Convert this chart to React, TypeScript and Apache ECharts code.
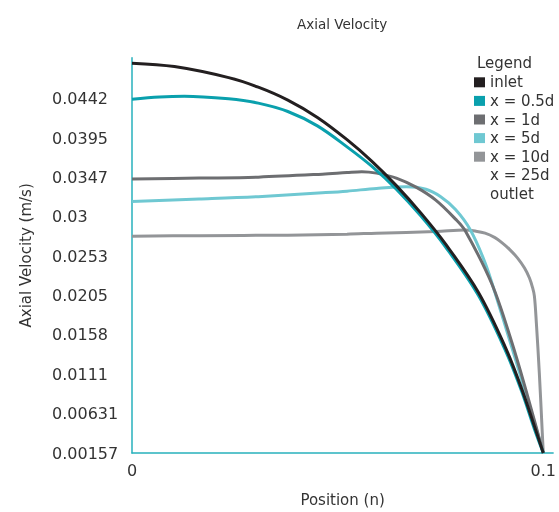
import React, { useEffect, useRef } from "react";
import * as echarts from "echarts";

const yTickValues = [0.00157, 0.00631, 0.01105, 0.01579, 0.02053, 0.02527, 0.03001, 0.03475, 0.03949, 0.04423];
const yTickLabels = ["0.00157", "0.00631", "0.0111", "0.0158", "0.0205", "0.0253", "0.03", "0.0347", "0.0395", "0.0442"];
const xTickValues = [0, 0.1];
const xTickLabels = ["0", "0.1"];

const inletX = [0, 0.01031, 0.0235, 0.0307, 0.03789, 0.04508, 0.05228, 0.05827, 0.06427, 0.07026, 0.07626, 0.08417, 0.09065, 0.09472, 0.09784, 0.1];
const inletV = [0.04854, 0.04813, 0.0468, 0.04565, 0.04409, 0.042, 0.03932, 0.03674, 0.03379, 0.03047, 0.02674, 0.02097, 0.01446, 0.00935, 0.00481, 0.00157];

const x05X = [0, 0.00671, 0.01271, 0.0235, 0.0307, 0.03789, 0.04508, 0.05228, 0.05827, 0.06427, 0.07026, 0.07626, 0.08417, 0.09065, 0.09472, 0.09784, 0.1];
const x05V = [0.0442, 0.04447, 0.04456, 0.04424, 0.04373, 0.04272, 0.04099, 0.03846, 0.03613, 0.03336, 0.03011, 0.02638, 0.0206, 0.01409, 0.00904, 0.00446, 0.00157];

const x1X = [0, 0.01631, 0.0307, 0.04628, 0.05228, 0.05588, 0.05947, 0.06427, 0.06906, 0.07386, 0.07866, 0.08106, 0.08753, 0.09233, 0.09616, 0.09952, 0.1];
const x1V = [0.03457, 0.03469, 0.03481, 0.03517, 0.03537, 0.03547, 0.03529, 0.03469, 0.0336, 0.03204, 0.02975, 0.02831, 0.0219, 0.01494, 0.00848, 0.00245, 0.00157];

const x5X = [0, 0.01631, 0.0307, 0.04628, 0.05228, 0.05947, 0.06667, 0.07146, 0.07506, 0.07866, 0.08225, 0.08585, 0.08825, 0.09233, 0.09616, 0.09952, 0.1];
const x5V = [0.03186, 0.03216, 0.03246, 0.03292, 0.03312, 0.03345, 0.03364, 0.03335, 0.03245, 0.03091, 0.02847, 0.0245, 0.02089, 0.01434, 0.00807, 0.00241, 0.00157];

const x10X = [0, 0.01631, 0.03789, 0.05228, 0.05947, 0.07386, 0.08106, 0.08345, 0.08585, 0.08825, 0.08993, 0.09185, 0.09376, 0.09544, 0.09664, 0.09736, 0.09784, 0.09832, 0.09904, 0.09976, 0.1];
const x10V = [0.0277, 0.02776, 0.02782, 0.02794, 0.02806, 0.02825, 0.02843, 0.02831, 0.02806, 0.02752, 0.02692, 0.02608, 0.02505, 0.02385, 0.02265, 0.02156, 0.02048, 0.01723, 0.0112, 0.00398, 0.00157];

const seriesNames = ["inlet", "x = 0.5d", "x = 1d", "x = 5d", "x = 10d", "x = 25d", "outlet"];
const seriesColors = ["#231f20", "#0aa0ad", "#6d6e71", "#6fc8d2", "#939598", "rgba(0,0,0,0)", "rgba(0,0,0,0)"];

const zip = (xs: number[], ys: number[]) => xs.map((x, i) => [x, ys[i]]);

const FONT = "DejaVu Sans";
const TXT = "#333333";
const AXIS = "#27b1bc";

export default function App() {
  const ref = useRef<HTMLDivElement>(null);
  useEffect(() => {
    if (!ref.current) return;
    const chart = echarts.init(ref.current, undefined, { renderer: "svg" });
    const dataSets = [
      zip(inletX, inletV),
      zip(x05X, x05V),
      zip(x1X, x1V),
      zip(x5X, x5V),
      zip(x10X, x10V),
      [],
      [],
    ];
    const labelFor = (v: number, vals: number[], labs: string[]) => {
      let best = 0;
      for (let i = 1; i < vals.length; i++) {
        if (Math.abs(vals[i] - v) < Math.abs(vals[best] - v)) best = i;
      }
      return labs[best];
    };
    chart.setOption({
      animation: false,
      title: [
        {
          text: "Axial Velocity",
          left: 292,
          top: 12,
          textStyle: { fontFamily: FONT, fontSize: 13.5, fontWeight: "normal", color: TXT },
        },
        {
          text: "Legend",
          left: 472,
          top: 50,
          textStyle: { fontFamily: FONT, fontSize: 15, fontWeight: "normal", color: TXT },
        },
      ],
      legend: {
        orient: "vertical",
        left: 474,
        top: 73,
        icon: "rect",
        itemWidth: 11,
        itemHeight: 10,
        itemGap: 0,
        padding: 0,
        data: seriesNames,
        textStyle: { fontFamily: FONT, fontSize: 15, color: TXT, lineHeight: 18.6 },
      },
      grid: { left: 132, right: 0, top: 57.7, bottom: 59, containLabel: false },
      xAxis: {
        type: "value",
        min: 0,
        max: 0.1024,
        splitLine: { show: false },
        axisTick: { show: false },
        axisLine: { show: true, lineStyle: { color: AXIS, width: 1.5 } },
        axisLabel: {
          customValues: xTickValues,
          formatter: (v: number) => labelFor(v, xTickValues, xTickLabels),
          fontFamily: FONT,
          fontSize: 16,
          color: TXT,
          margin: 9,
          showMaxLabel: true,
        },
        name: "Position (n)",
        nameLocation: "middle",
        nameGap: 39,
        nameTextStyle: { fontFamily: FONT, fontSize: 15, color: TXT },
      },
      yAxis: {
        type: "value",
        min: 0.00157,
        max: 0.0492,
        splitLine: { show: false },
        axisTick: { show: false },
        axisLine: { show: true, lineStyle: { color: AXIS, width: 1.5 } },
        axisLabel: {
          customValues: yTickValues,
          formatter: (v: number) => labelFor(v, yTickValues, yTickLabels),
          fontFamily: FONT,
          fontSize: 16,
          color: TXT,
          align: "left",
          margin: 80,
        },
        name: "Axial Velocity (m/s)",
        nameLocation: "middle",
        nameGap: 99,
        nameTextStyle: { fontFamily: FONT, fontSize: 15, color: TXT },
      },
      series: seriesNames.map((name, i) => ({
        name,
        type: "line",
        data: dataSets[i],
        smooth: 0.35,
        showSymbol: false,
        symbol: "none",
        lineStyle: { color: seriesColors[i], width: 3 },
        itemStyle: { color: seriesColors[i] },
        z: 10 - i,
      })),
    });
    return () => chart.dispose();
  }, []);
  return (
    <div
      ref={ref}
      style={{ position: "fixed", left: 0, top: 0, width: 559, height: 512 }}
    />
  );
}
